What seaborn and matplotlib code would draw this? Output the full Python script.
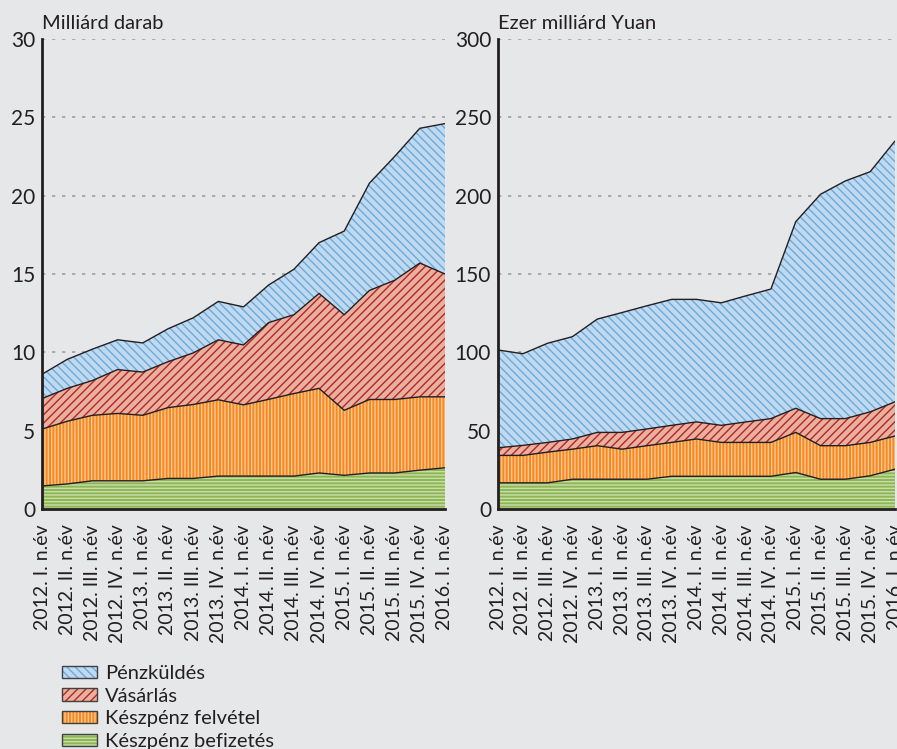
import matplotlib
matplotlib.use('Agg')

import pandas as pd
import matplotlib.pyplot as plt
import seaborn as sns
from matplotlib.patches import Patch
from matplotlib.legend_handler import HandlerTuple

quarters = ["2012. I. n.év", "2012. II. n.év", "2012. III. n.év", "2012. IV. n.év",
            "2013. I. n.év", "2013. II. n.év", "2013. III. n.év", "2013. IV. n.év",
            "2014. I. n.év", "2014. II. n.év", "2014. III. n.év", "2014. IV. n.év",
            "2015. I. n.év", "2015. II. n.év", "2015. III. n.év", "2015. IV. n.év",
            "2016. I. n.év"]

series_names = ["Készpénz befizetés", "Készpénz felvétel", "Vásárlás", "Pénzküldés"]

# bal panel: milliárd darab
db_befizetes = [1.47, 1.6, 1.8, 1.8, 1.8, 1.95, 1.95, 2.1, 2.1, 2.1, 2.1, 2.3, 2.15, 2.3, 2.3, 2.48, 2.63]
db_felvetel = [3.63, 4.0, 4.18, 4.3, 4.18, 4.52, 4.72, 4.87, 4.55, 4.9, 5.27, 5.4, 4.15, 4.69, 4.69, 4.68, 4.53]
db_vasarlas = [1.95, 2.1, 2.22, 2.8, 2.76, 2.93, 3.29, 3.83, 3.82, 4.9, 5.03, 6.06, 6.1, 6.96, 7.61, 8.54, 7.84]
db_kuldes = [1.55, 1.85, 2.0, 1.9, 1.86, 2.1, 2.24, 2.45, 2.43, 2.4, 2.9, 3.24, 5.34, 6.85, 7.9, 8.6, 9.6]

# jobb panel: ezer milliárd Yuan
yuan_befizetes = [16.7, 16.7, 16.7, 19, 19, 19, 19, 20.9, 20.9, 20.9, 20.9, 20.9, 23.3, 19, 19, 21.2, 25.4]
yuan_felvetel = [17.5, 17.5, 19.6, 19.2, 21.4, 19.2, 21.4, 21.6, 23.8, 21.6, 21.6, 21.6, 25.6, 21.4, 21.4, 21.3, 21.2]
yuan_vasarlas = [4.9, 6.4, 6.2, 6.5, 8.5, 10.7, 10.7, 10.9, 10.9, 10.9, 13.1, 15.2, 15.4, 17.3, 17.3, 19.5, 21.8]
yuan_kuldes = [62.4, 58.5, 63.3, 65.3, 72.3, 76.5, 78.6, 80.4, 78.2, 78.2, 80.5, 82.7, 119.1, 143.2, 151.7, 153.3, 166.5]

fill_colors = ["#8db654", "#f58a24", "#e8b09d", "#bfdaf0"]
hatch_colors = ["#c9ddab", "#fcc68c", "#b3262a", "#6ea9d8"]
hatches = ["-----", "|||||", "////", "\\\\\\\\"]

bg = "#e6e7e8"
txt = "#231f20"

sns.set_theme(style="white")
plt.rcParams["font.family"] = ["Lato", "DejaVu Sans"]
plt.rcParams["hatch.linewidth"] = 1.0
plt.rcParams["text.color"] = txt


def draw_panel(ax, parts, ymax, ystep, unit):
    df = pd.DataFrame({name: vals for name, vals in zip(series_names, parts)})
    df["x"] = range(len(quarters))
    bottom = [0.0] * len(quarters)
    for i, name in enumerate(series_names):
        top = [b + v for b, v in zip(bottom, df[name])]
        ax.fill_between(df["x"], bottom, top, facecolor=fill_colors[i],
                        edgecolor=hatch_colors[i], hatch=hatches[i], linewidth=0, zorder=2)
        sns.lineplot(x=df["x"], y=top, ax=ax, color="#231f20", linewidth=1.0, zorder=3)
        bottom = top

    ax.set_facecolor(bg)
    ax.set_xlim(0, len(quarters) - 1)
    ax.set_ylim(0, ymax)
    ax.set_yticks(range(0, ymax + 1, ystep))
    ax.set_xticks(range(len(quarters)))
    ax.set_xticklabels(quarters, rotation=90, fontsize=14, color=txt)
    ax.set_xlabel("")
    ax.set_ylabel("")
    for t in ax.get_yticklabels():
        t.set_fontsize(15)
        t.set_color(txt)
    for y in range(ystep, ymax + 1, ystep):
        ax.axhline(y, color="#9d9fa2", linestyle=(0, (2, 4)), linewidth=1.2, zorder=1)
    for s in ["top", "right"]:
        ax.spines[s].set_visible(False)
    for s in ["left", "bottom"]:
        ax.spines[s].set_color("#231f20")
        ax.spines[s].set_linewidth(2)
        ax.spines[s].set_zorder(5)
    ax.tick_params(axis="x", direction="out", length=6, width=1.6, color="#231f20", pad=5)
    ax.tick_params(axis="y", direction="out", length=3, width=1.6, color="#231f20", pad=2)
    ax.annotate(unit, xy=(0, 1), xycoords="axes fraction", xytext=(0, 7),
                textcoords="offset points", va="baseline", ha="left", fontsize=14.5, color=txt)


fig = plt.figure(figsize=(8.97, 7.49), dpi=100, facecolor=bg)
ax1 = fig.add_axes([42 / 897, 240 / 749, 403 / 897, 470 / 749])
ax2 = fig.add_axes([498 / 897, 240 / 749, 397 / 897, 470 / 749])

draw_panel(ax1, [db_befizetes, db_felvetel, db_vasarlas, db_kuldes], 30, 5, "Milliárd darab")
draw_panel(ax2, [yuan_befizetes, yuan_felvetel, yuan_vasarlas, yuan_kuldes], 300, 50, "Ezer milliárd Yuan")

handles = []
for i in range(len(series_names)):
    handles.append((Patch(facecolor=fill_colors[i], edgecolor=hatch_colors[i], hatch=hatches[i], linewidth=0),
                    Patch(fill=False, edgecolor="#404040", linewidth=1)))
order = [3, 2, 1, 0]
fig.legend([handles[i] for i in order], [series_names[i] for i in order],
           handler_map={tuple: HandlerTuple(ndivide=1)},
           loc="upper left", bbox_to_anchor=(62 / 897, 1 - 665 / 749),
           frameon=False, borderpad=0, borderaxespad=0, fontsize=14.5,
           handlelength=1.75, handleheight=0.55, handletextpad=0.4, labelspacing=0.28)

plt.savefig("out.png", dpi=100, facecolor=bg)
